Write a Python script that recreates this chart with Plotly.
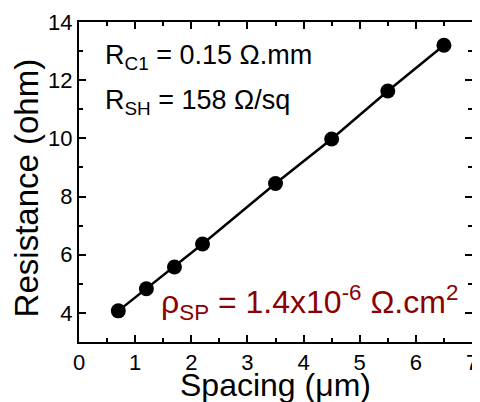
import plotly.graph_objects as go

spacing_um = [0.7, 1.2, 1.7, 2.2, 3.5, 4.5, 5.5, 6.5]
resistance_ohm = [4.07, 4.83, 5.58, 6.37, 8.45, 9.98, 11.63, 13.2]

x_ticks = [0, 1, 2, 3, 4, 5, 6, 7]
y_ticks = [4, 6, 8, 10, 12, 14]

FONT = "Liberation Sans, Arial, sans-serif"

fig = go.Figure()
fig.add_trace(go.Scatter(
    x=spacing_um, y=resistance_ohm, mode="lines+markers",
    line=dict(color="black", width=2.5),
    marker=dict(color="black", size=15),
    showlegend=False,
))

axis_common = dict(
    showline=True, linecolor="black", linewidth=2, mirror="ticks",
    ticks="inside", ticklen=7, tickwidth=1.5, tickcolor="black",
    showgrid=False, zeroline=False, automargin=False,
    tickfont=dict(family=FONT, size=22, color="black"),
)

fig.update_xaxes(
    range=[0, 7], tickvals=x_ticks,
    minor=dict(ticks="inside", ticklen=4, tickwidth=1.5, dtick=0.5, tick0=0, tickcolor="black"),
    **axis_common,
)
fig.update_yaxes(
    range=[3, 14], tickvals=y_ticks,
    minor=dict(ticks="inside", ticklen=4, tickwidth=1.5, dtick=1, tick0=0, tickcolor="black"),
    **axis_common,
)

# axis titles
fig.add_annotation(
    x=-0.135, y=0.483, xref="paper", yref="paper", xanchor="center", yanchor="middle",
    text="Resistance (ohm)", textangle=-90, showarrow=False,
    font=dict(family=FONT, size=33, color="black"),
)
fig.add_annotation(
    x=0.5, y=-0.134, xref="paper", yref="paper", xanchor="center", yanchor="middle",
    text="Spacing (\u03bcm)", showarrow=False,
    font=dict(family=FONT, size=32, color="black"),
)

fig.add_annotation(
    x=0.061, y=0.89, xref="paper", yref="paper", xanchor="left", yanchor="middle",
    text="R<sub>C1</sub> = 0.15 \u03a9.mm", showarrow=False,
    font=dict(family=FONT, size=27, color="black"),
)
fig.add_annotation(
    x=0.061, y=0.75, xref="paper", yref="paper", xanchor="left", yanchor="middle",
    text="R<sub>SH</sub> = 158 \u03a9/sq", showarrow=False,
    font=dict(family=FONT, size=27, color="black"),
)
fig.add_annotation(
    x=0.969, y=0.125, xref="paper", yref="paper", xanchor="right", yanchor="middle",
    text="\u03c1<sub>SP</sub> = 1.4x10<sup>-6</sup> \u03a9.cm<sup>2</sup>", showarrow=False,
    font=dict(family=FONT, size=32, color="#8B0000"),
)

# page body adds an 8px offset; figure sized so the plot area lands at 79..472 x 22..342
fig.update_layout(
    width=472, height=394,
    margin=dict(l=71, r=8, t=14, b=60),
    paper_bgcolor="white", plot_bgcolor="white",
)

fig.write_html("out.html")
